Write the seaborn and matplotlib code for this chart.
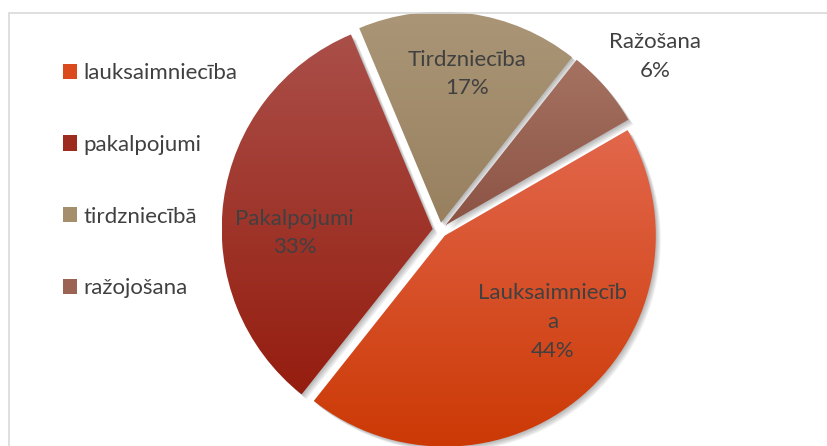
import numpy as np
import matplotlib
matplotlib.use("Agg")
import matplotlib.pyplot as plt
import seaborn as sns
from matplotlib.patches import Wedge, Rectangle, Patch
from matplotlib.colors import to_rgb

# ==========================================
# Data
# ==========================================
SLICE_NAMES = ["Lauksaimniecīb\na", "Pakalpojumi", "Tirdzniecība", "Ražošana"]
LEGEND_NAMES = ["lauksaimniecība", "pakalpojumi", "tirdzniecībā", "ražojošana"]
SHARES = [44, 33, 17, 6]

# gradient colours per slice (top, bottom)
TOP_COLORS = ["#E2674C", "#AA4F49", "#AA9677", "#A57262"]
BOTTOM_COLORS = ["#CC3905", "#951D0F", "#98805F", "#8C5343"]
LEGEND_COLORS = ["#DB4A1C", "#9E2C1E", "#A48E6C", "#9A6353"]

# label placement: distance from centre, angle shift from wedge middle
LABEL_DIST = [0.69, 0.69, 0.75, 1.31]
LABEL_SHIFT = [10, 9, -2, -2]

# ==========================================
# Style
# ==========================================
sns.set_theme(style="white")
plt.rcParams['font.family'] = ['Lato', 'DejaVu Sans']
TEXT_COLOR = "#404040"

W, H = 827, 446
CX, CY, R = 440, 230, 211  # pie centre / radius in pixels

fig = plt.figure(figsize=(W / 100, H / 100), dpi=100)
ax = fig.add_axes([0, 0, 1, 1])

wedges, _ = ax.pie(SHARES, startangle=30, counterclock=False,
                   explode=[0.035] * 4, radius=1.0,
                   wedgeprops={'linewidth': 0})

ax.set_aspect('auto')
ax.axis('off')

# gradient fill + soft shadow for each wedge
for i, w in enumerate(wedges):
    w.set_facecolor('none')
    cx, cy = w.center
    # shadow layers
    for k in range(1, 6):
        off = k * 1.0 / R
        sh = Wedge((cx + off, cy - off), w.r, w.theta1, w.theta2,
                   facecolor='black', alpha=0.06, linewidth=0, zorder=0.5)
        ax.add_patch(sh)
    ext = w.get_path().get_extents()
    top = np.array(to_rgb(TOP_COLORS[i]))
    bot = np.array(to_rgb(BOTTOM_COLORS[i]))
    t = np.linspace(0, 1, 256)[:, None]
    grad = (top * (1 - t) + bot * t)[:, None, :]
    im = ax.imshow(grad, extent=[ext.x0, ext.x1, ext.y0, ext.y1],
                   origin='upper', aspect='auto', zorder=1,
                   interpolation='bilinear')
    clip = Wedge(w.center, w.r, w.theta1, w.theta2, transform=ax.transData,
                 facecolor='none', linewidth=0)
    ax.add_patch(clip)
    im.set_clip_path(clip)

    # data labels
    mid = np.deg2rad((w.theta1 + w.theta2) / 2 + LABEL_SHIFT[i])
    lx = LABEL_DIST[i] * np.cos(mid)
    ly = LABEL_DIST[i] * np.sin(mid)
    ax.text(lx, ly, f"{SLICE_NAMES[i]}\n{SHARES[i]}%", ha='center', va='center',
            fontsize=16, color=TEXT_COLOR, linespacing=1.55, zorder=3)

ax.set_xlim(-CX / R, (W - CX) / R)
ax.set_ylim(-(H - CY) / R, CY / R)

# legend
handles = [Patch(facecolor=c, edgecolor='none') for c in LEGEND_COLORS]
fig.legend(handles, LEGEND_NAMES, loc='upper left',
           bbox_to_anchor=(63 / W, 1 - 63 / H), frameon=False,
           fontsize=16, labelcolor=TEXT_COLOR, borderpad=0, borderaxespad=0,
           handlelength=0.62, handleheight=0.68, handletextpad=0.28,
           labelspacing=2.33)

# chart-area border
fig.patches.append(Rectangle((9 / W, -0.1), 2, 1 - 13 / H + 0.1,
                             transform=fig.transFigure, fill=False,
                             edgecolor='#D9D9D9', linewidth=1.2))

fig.savefig("out.png", dpi=100)
